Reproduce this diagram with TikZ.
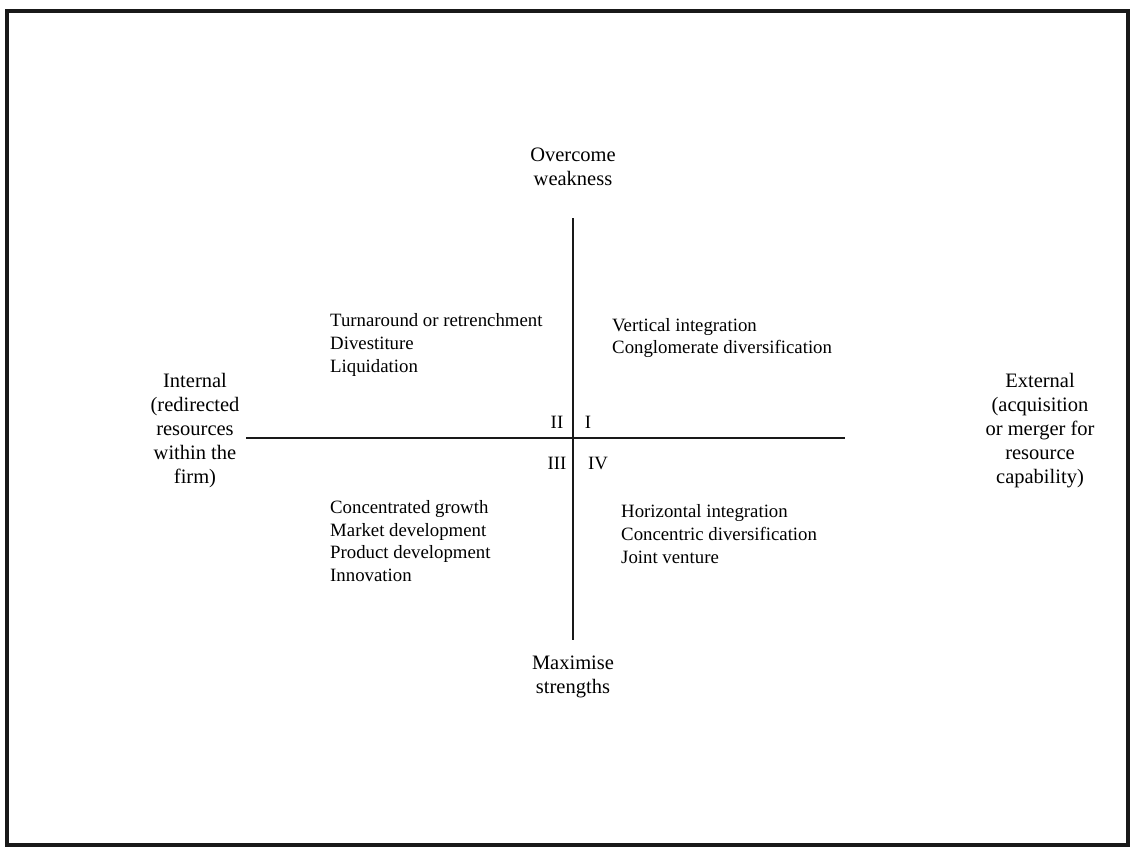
\documentclass[tikz,border=0pt]{standalone}
\usepackage{fontspec}
\setmainfont{Liberation Serif}
\begin{document}
\begin{tikzpicture}[x=1pt,y=-1pt,
  axislabel/.style={font=\fontsize{20.5}{24}\selectfont, align=center, inner sep=0pt},
  listtext/.style={font=\fontsize{18.8}{22.6}\selectfont, align=left, inner sep=0pt, anchor=west},
  quad/.style={font=\fontsize{18.8}{22}\selectfont, inner sep=0pt},
  axis/.style={line width=1.6pt, black!90}]
\useasboundingbox (0,0) rectangle (1131,847);
% outer frame
\draw[line width=3.2pt, black!90] (7,11) rectangle (1128,845);

% axes
\coordinate (top) at (573,218);
\coordinate (bottom) at (573,640);
\coordinate (left) at (246,438);
\coordinate (right) at (845,438);
\draw[axis] (top) -- (bottom);
\draw[axis] (left) -- (right);

% axis labels
\node[axislabel] (weak) at (573,167) {Overcome\\weakness};
\node[axislabel] (strong) at (573,677) {Maximise\\strengths};
\node[axislabel] (internal) at (195,431) {Internal\\(redirected\\resources\\within the\\firm)};
\node[axislabel] (external) at (1040,431) {External\\(acquisition\\or merger for\\resource\\capability)};

% quadrant numerals
\node[quad] (q2) at (557,422) {II};
\node[quad] (q1) at (588,422) {I};
\node[quad] (q3) at (557,463) {III};
\node[quad] (q4) at (598,463) {IV};

% strategies per quadrant
\node[listtext] (s2) at (330,345) {Turnaround or retrenchment\\Divestiture\\Liquidation};
\node[listtext] (s1) at (612,338) {Vertical integration\\Conglomerate diversification};
\node[listtext] (s3) at (330,541) {Concentrated growth\\Market development\\Product development\\Innovation};
\node[listtext] (s4) at (621,534) {Horizontal integration\\Concentric diversification\\Joint venture};
\end{tikzpicture}
\end{document}
